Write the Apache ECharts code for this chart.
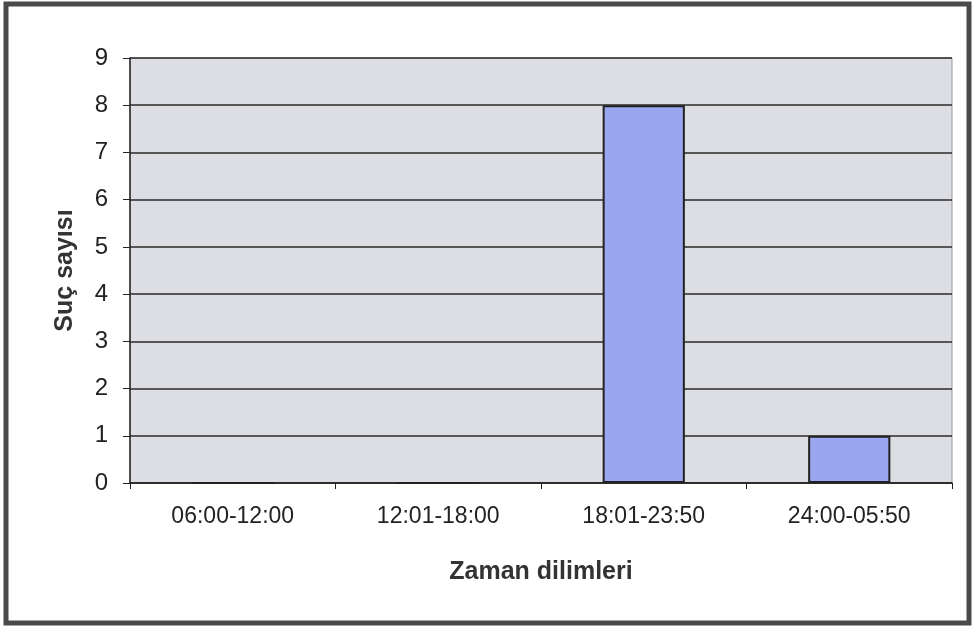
<!DOCTYPE html>
<html><head><meta charset="utf-8">
<script src="https://cdn.jsdelivr.net/npm/echarts@6/dist/echarts.min.js"></script>
<style>html,body{margin:0;padding:0;background:#fff}#c{width:975px;height:631px}</style>
</head><body><div id="c"></div>
<script>
const categories = ['06:00-12:00', '12:01-18:00', '18:01-23:50', '24:00-05:50'];
const values = [0, 0, 8, 1];
const yTicks = [0, 1, 2, 3, 4, 5, 6, 7, 8, 9];
const xTitle = 'Zaman dilimleri';
const yTitle = 'Suç sayısı';

const chart = echarts.init(document.getElementById('c'));
chart.setOption({
  animation: false,
  backgroundColor: '#fff',
  graphic: [{
    type: 'rect', shape: {x: 6, y: 4, width: 963, height: 619},
    style: {fill: 'none', stroke: '#4a4a4a', lineWidth: 5}, z: 100
  }],
  grid: {left: 130, right: 23, top: 58, bottom: 148, show: true,
    backgroundColor: '#dddde4', borderColor: '#9a9a9a', borderWidth: 1},
  xAxis: {
    type: 'category', data: categories,
    name: xTitle, nameLocation: 'middle', nameGap: 77,
    nameTextStyle: {fontFamily: 'Liberation Sans, Arial', fontWeight: 'bold', fontSize: 25, color: '#333'},
    axisLine: {lineStyle: {color: '#222', width: 1.5}},
    axisTick: {show: true, length: 6, lineStyle: {color: '#222'}},
    axisLabel: {fontFamily: 'Liberation Sans, Arial', fontSize: 23, color: '#222', margin: 22}
  },
  yAxis: {
    type: 'value', min: 0, max: 9, interval: 1,
    name: yTitle, nameLocation: 'middle', nameGap: 52,
    nameTextStyle: {fontFamily: 'Liberation Sans, Arial', fontWeight: 'bold', fontSize: 25, color: '#333'},
    axisLine: {show: true, lineStyle: {color: '#222', width: 1.5}},
    axisTick: {show: true, length: 7, lineStyle: {color: '#222'}},
    axisLabel: {fontFamily: 'Liberation Sans, Arial', fontSize: 24, color: '#222', margin: 22,
      formatter: v => yTicks.includes(v) ? String(v) : ''},
    splitLine: {lineStyle: {color: '#2a2a2a', width: 1.5}}
  },
  series: [{
    type: 'bar', data: values, barWidth: '40%',
    itemStyle: {color: '#9aa6f0', borderColor: '#222', borderWidth: 2}
  }]
});
</script></body></html>
